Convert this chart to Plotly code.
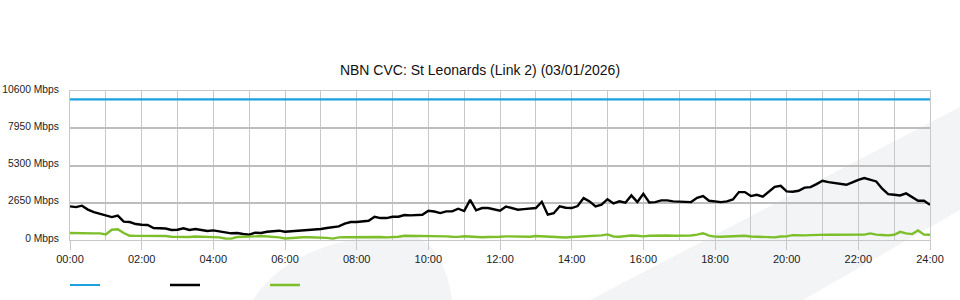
import plotly.graph_objects as go

TITLE = "NBN CVC: St Leonards (Link 2) (03/01/2026)"

# time of day in minutes, every 10 minutes from 00:00 to 24:00
minutes = list(range(0, 1441, 10))
hours = [m / 60 for m in minutes]

series_names = ["", "", ""]

capacity = [10000] * len(minutes)

download = [
    2390, 2340, 2440, 2165, 1990, 1870,   # 00
    1700, 1630, 1740, 1310, 1280, 1135,   # 01
    1090, 1065, 850, 850, 815, 710,       # 02
    730, 830, 710, 780, 710, 640,         # 03
    685, 590, 545, 475, 497, 426,         # 04
    377, 520, 497, 590, 615, 663,         # 05
    590, 615, 688, 663, 710, 760,         # 06
    780, 852, 923, 970, 1160, 1280,       # 07
    1280, 1325, 1370, 1655, 1560, 1560,   # 08
    1655, 1655, 1775, 1750, 1750, 1800,   # 09
    2080, 2030, 1917, 2035, 2035, 2225,   # 10
    2060, 2850, 2107, 2272, 2272, 2177,   # 11
    2083, 2380, 2250, 2153, 2200, 2225,   # 12
    2272, 2720, 1800, 1900, 2400, 2295,   # 13
    2272, 2414, 2982, 2745, 2390, 2508,   # 14
    2900, 2600, 2750, 2650, 3170, 2700,   # 15
    3290, 2675, 2698, 2816, 2816, 2745,   # 16
    2720, 2675, 2698, 3005, 3124, 2792,   # 17
    2722, 2698, 2745, 2887, 3408, 3408,   # 18
    3124, 3218, 3077, 3455, 3786, 3857,   # 19
    3455, 3432, 3503, 3730, 3763, 3976,   # 20
    4213, 4118, 4071, 3999, 3928, 4095,   # 21
    4284, 4402, 4307, 4165, 3645, 3266,   # 22
    3218, 3171, 3313, 3029, 2792, 2792,   # 23
    2500,                                 # 24
]

upload = [
    500, 480, 500, 470, 470, 470,   # 00
    400, 730, 760, 500, 300, 290,   # 01
    290, 290, 285, 280, 280, 230,   # 02
    220, 213, 213, 250, 240, 213,   # 03
    200, 190, 110, 95, 210, 213,    # 04
    220, 260, 284, 270, 230, 190,   # 05
    110, 150, 190, 200, 200, 200,   # 06
    200, 150, 100, 190, 200, 200,   # 07
    210, 250, 210, 200, 215, 190,   # 08
    200, 230, 300, 300, 260, 280,   # 09
    250, 280, 300, 260, 230, 220,   # 10
    270, 230, 200, 200, 210, 200,   # 11
    230, 260, 250, 220, 215, 230,   # 12
    280, 260, 220, 200, 150, 180,   # 13
    213, 230, 260, 300, 280, 330,   # 14
    400, 250, 230, 280, 320, 300,   # 15
    260, 300, 310, 340, 320, 300,   # 16
    300, 310, 320, 380, 480, 310,   # 17
    240, 230, 240, 240, 250, 300,   # 18
    250, 240, 240, 230, 190, 250,   # 19
    260, 350, 320, 330, 350, 370,   # 20
    380, 380, 370, 370, 380, 370,   # 21
    380, 380, 470, 380, 360, 330,   # 22
    370, 580, 470, 420, 680, 380,   # 23
    370,                            # 24
]

x_tick_vals = [0, 2, 4, 6, 8, 10, 12, 14, 16, 18, 20, 22, 24]
x_tick_text = ["00:00", "02:00", "04:00", "06:00", "08:00", "10:00", "12:00",
               "14:00", "16:00", "18:00", "20:00", "22:00", "24:00"]
y_tick_vals = [0, 2650, 5300, 7950, 10600]
y_tick_text = ["0 Mbps", "2650 Mbps", "5300 Mbps", "7950 Mbps", "10600 Mbps"]

# ---- layout geometry (pixels) ----
W, H = 960, 300
ML, MR, MT, MB = 70, 30, 91, 60
PW, PH = W - ML - MR, H - MT - MB


def px(x, y):
    """pixel -> paper coords"""
    return (x - ML) / PW, (H - MB - y) / PH


def path(points):
    s = ""
    for p in points:
        cmd = p[0]
        coords = p[1:]
        parts = []
        for j in range(0, len(coords), 2):
            a, b = px(coords[j], coords[j + 1])
            parts.append(f"{a:.4f},{b:.4f}")
        s += cmd + " " + " ".join(parts) + " "
    return s + "Z"


band = path([("M", 590, 300), ("L", 960, 107), ("L", 960, 210), ("L", 803, 300)])
blob = path([("M", 253, 300), ("Q", 285, 250, 365, 237), ("L", 417, 237),
             ("Q", 445, 250, 452, 300)])

fig = go.Figure()
colors = ["#1ba1e2", "#000000", "#7cbf2a"]
widths = [2.2, 2.4, 2.4]
for name, ys, col, w in zip(series_names, [capacity, download, upload], colors, widths):
    fig.add_trace(go.Scatter(x=hours, y=ys, mode="lines", name=name,
                             line=dict(color=col, width=w), showlegend=True))

FONT = "Liberation Sans, Arial, sans-serif"
fig.update_layout(
    width=W, height=H,
    margin=dict(l=ML, r=MR, t=MT, b=MB, autoexpand=False),
    paper_bgcolor="white",
    plot_bgcolor="rgba(0,0,0,0)",
    font=dict(family=FONT, size=11, color="#222"),
    title=dict(text=TITLE, x=0.5, xanchor="center", y=1 - 70 / H, yanchor="middle",
               font=dict(size=14, color="#111")),
    shapes=[
        dict(type="path", path=band, xref="paper", yref="paper",
             fillcolor="#f3f4f6", line=dict(width=0), layer="below"),
        dict(type="path", path=blob, xref="paper", yref="paper",
             fillcolor="#f3f4f6", line=dict(width=0), layer="below"),
    ],
    xaxis=dict(range=[0, 24], tickvals=x_tick_vals, ticktext=x_tick_text,
               ticks="outside", ticklen=9, tickcolor="#c8c8c8",
               showgrid=True, gridcolor="#c8c8c8", gridwidth=1,
               minor=dict(dtick=1, showgrid=True, gridcolor="#c8c8c8", gridwidth=1),
               showline=True, linecolor="#c8c8c8", linewidth=1, mirror=True,
               zeroline=False, automargin=False,
               tickfont=dict(size=11, color="#222")),
    yaxis=dict(range=[0, 10600], tickvals=y_tick_vals, ticktext=y_tick_text,
               showgrid=True, gridcolor="#bdbdbd", gridwidth=1.5,
               showline=True, linecolor="#c8c8c8", linewidth=1, mirror=True,
               zeroline=False, ticks="", ticklabelstandoff=8, ticklabelshift=-2,
               automargin=False,
               tickfont=dict(size=10.3, color="#222")),
    legend=dict(orientation="h", x=(65 - ML) / PW, xanchor="left",
                y=(240 - 285) / PH, yanchor="middle",
                entrywidth=55, entrywidthmode="pixels",
                bgcolor="rgba(0,0,0,0)", font=dict(size=11)),
)

fig.write_html("out.html")
